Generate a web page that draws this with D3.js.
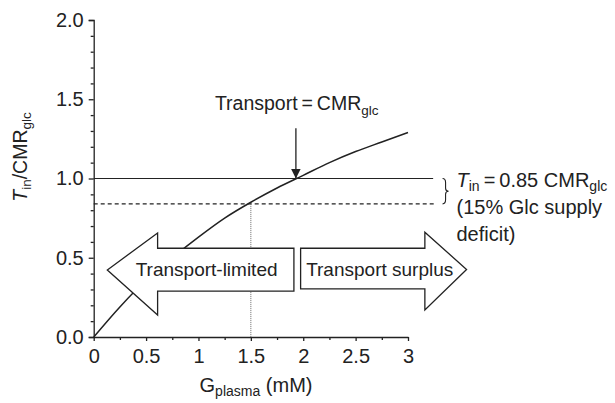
<!DOCTYPE html>
<html>
<head>
<meta charset="utf-8">
<script src="https://cdn.jsdelivr.net/npm/d3@7.9.0/dist/d3.min.js"></script>
<style>
  html, body { margin: 0; padding: 0; background: #fff; }
  svg { display: block; font-family: "Liberation Sans", Arial, Helvetica, sans-serif; }
  .axis path, .axis line { stroke: #222; stroke-width: 1.3; }
  .axis text { font-size: 20px; fill: #222; font-family: "Liberation Sans", Arial, sans-serif; }
</style>
</head>
<body>
<svg id="chart" width="615" height="403"></svg>
<script>
// glucose transport curve
const glc = [0, 0.25, 0.5, 0.75, 1, 1.25, 1.5, 1.75, 2, 2.25, 2.5, 2.75, 3];
const ratio = [0, 0.19, 0.36, 0.5, 0.63, 0.75, 0.85, 0.94, 1.02, 1.1, 1.17, 1.23, 1.29];

const xTicks = [0, 0.5, 1, 1.5, 2, 2.5, 3];
const yTicks = [0, 0.5, 1, 1.5, 2];

const fullLevel = 1.0;     // Transport = CMRglc
const deficitLevel = 0.84; // dashed line (0.85 CMRglc)
const crossG = 1.93;       // where curve hits 1.0
const deficitG = 1.5;      // where curve hits 0.85

const width = 615, height = 403;
const svg = d3.select('#chart');

const x = d3.scaleLinear().domain([0, 3]).range([93.7, 408]);
const y = d3.scaleLinear().domain([0, 2]).range([337, 20]);

const ink = '#222';

// minor ticks
svg.append('g').attr('class', 'axis')
  .attr('transform', `translate(0,${y(0)})`)
  .call(d3.axisBottom(x).tickValues(d3.range(0.25, 3, 0.5)).tickSize(3).tickFormat(''))
  .call(g => g.select('.domain').remove());
svg.append('g').attr('class', 'axis')
  .attr('transform', `translate(${x(0)},0)`)
  .call(d3.axisLeft(y).tickValues(d3.range(0, 20).map(i => i / 10).filter(v => Math.round(v * 10) % 5 !== 0)).tickSize(3).tickFormat(''))
  .call(g => g.select('.domain').remove());

// major axes
const xAxis = svg.append('g').attr('class', 'axis')
  .attr('transform', `translate(0,${y(0)})`)
  .call(d3.axisBottom(x).tickValues(xTicks).tickSizeInner(4).tickSizeOuter(0).tickFormat(d => d));
xAxis.selectAll('text').attr('y', 12).attr('dy', '0.71em');

const yAxis = svg.append('g').attr('class', 'axis')
  .attr('transform', `translate(${x(0)},0)`)
  .call(d3.axisLeft(y).tickValues(yTicks).tickSizeInner(5).tickSizeOuter(5).tickFormat(d3.format('.1f')));
yAxis.selectAll('text').attr('x', -10);

// axis titles
const yTitle = svg.append('text')
  .attr('transform', `translate(27,157) rotate(-90)`)
  .attr('text-anchor', 'middle')
  .attr('font-size', 19.5).attr('fill', ink);
yTitle.append('tspan').attr('font-style', 'italic').text('T');
yTitle.append('tspan').attr('font-size', 13.5).attr('dy', 4).text('in');
yTitle.append('tspan').attr('dy', -4).text('/CMR');
yTitle.append('tspan').attr('font-size', 13.5).attr('dy', 4).text('glc');

const xTitle = svg.append('text')
  .attr('x', 256).attr('y', 392)
  .attr('text-anchor', 'middle')
  .attr('font-size', 20).attr('fill', ink);
xTitle.append('tspan').text('G');
xTitle.append('tspan').attr('font-size', 14).attr('dy', 4).text('plasma');
xTitle.append('tspan').attr('dy', -4).text(' (mM)');

// reference lines
svg.append('line')
  .attr('x1', x(0)).attr('x2', x(3.24))
  .attr('y1', y(fullLevel)).attr('y2', y(fullLevel))
  .attr('stroke', ink).attr('stroke-width', 1.2);
svg.append('line')
  .attr('x1', x(0)).attr('x2', x(3.25))
  .attr('y1', y(deficitLevel)).attr('y2', y(deficitLevel))
  .attr('stroke', ink).attr('stroke-width', 1.2).attr('stroke-dasharray', '4,3');
svg.append('line')
  .attr('x1', x(deficitG)).attr('x2', x(deficitG))
  .attr('y1', y(deficitLevel)).attr('y2', y(0))
  .attr('stroke', '#666').attr('stroke-width', 1).attr('stroke-dasharray', '1,1');

// curve
const line = d3.line().x((d, i) => x(glc[i])).y(d => y(d)).curve(d3.curveMonotoneX);
svg.append('path')
  .attr('d', line(ratio))
  .attr('fill', 'none').attr('stroke', ink).attr('stroke-width', 1.5);

// block arrows (data coordinates)
const leftArrow = [
  [1.911, 0.56], [0.61, 0.56], [0.61, 0.656], [0.13, 0.423],
  [0.61, 0.139], [0.61, 0.29], [1.911, 0.29]
];
const rightArrow = [
  [1.975, 0.56], [3.161, 0.56], [3.161, 0.661], [3.559, 0.426],
  [3.161, 0.17], [3.161, 0.303], [1.975, 0.303]
];
[leftArrow, rightArrow].forEach(pts => {
  svg.append('path')
    .attr('d', 'M' + pts.map(p => `${x(p[0])},${y(p[1])}`).join('L') + 'Z')
    .attr('fill', '#fff').attr('stroke', ink).attr('stroke-width', 1.3)
    .attr('stroke-linejoin', 'miter');
});
svg.append('text')
  .attr('x', x(1.078)).attr('y', y(0.425) + 6.5)
  .attr('text-anchor', 'middle').attr('font-size', 19).attr('fill', ink)
  .text('Transport-limited');
svg.append('text')
  .attr('x', x(2.73)).attr('y', y(0.425) + 6.5)
  .attr('text-anchor', 'middle').attr('font-size', 19).attr('fill', ink)
  .text('Transport surplus');

// pointer arrow
svg.append('defs').append('marker')
  .attr('id', 'head').attr('viewBox', '0 0 10 10')
  .attr('refX', 10).attr('refY', 5)
  .attr('markerWidth', 10).attr('markerHeight', 11)
  .attr('markerUnits', 'userSpaceOnUse')
  .attr('orient', 'auto')
  .append('path').attr('d', 'M0,0L10,5L0,10Z').attr('fill', ink);
svg.append('line')
  .attr('x1', x(crossG)).attr('x2', x(crossG))
  .attr('y1', y(1.317)).attr('y2', y(fullLevel))
  .attr('stroke', ink).attr('stroke-width', 1.3)
  .attr('marker-end', 'url(#head)');

const eqLabel = svg.append('text')
  .attr('x', x(1.157)).attr('y', y(1.432))
  .attr('font-size', 19.5).attr('fill', ink);
eqLabel.append('tspan').text('Transport\u2009=\u2009CMR');
eqLabel.append('tspan').attr('font-size', 13.5).attr('dy', 5).text('glc');

// brace + deficit note
const bx = x(3.33), by0 = y(fullLevel), by1 = y(deficitLevel), bm = (by0 + by1) / 2;
svg.append('path')
  .attr('d', `M${bx},${by0} Q${bx + 3},${by0} ${bx + 3},${by0 + 4} L${bx + 3},${bm - 3} Q${bx + 3},${bm} ${bx + 6},${bm}
              Q${bx + 3},${bm} ${bx + 3},${bm + 3} L${bx + 3},${by1 - 4} Q${bx + 3},${by1} ${bx},${by1}`)
  .attr('fill', 'none').attr('stroke', ink).attr('stroke-width', 1.1);

const note = svg.append('text').attr('font-size', 20).attr('fill', ink);
const l1 = note.append('tspan').attr('x', 456.5).attr('y', 186.7);
l1.append('tspan').attr('font-style', 'italic').text('T');
l1.append('tspan').attr('font-size', 14).attr('dy', 4).text('in');
l1.append('tspan').attr('dy', -4).text('\u2009=\u20090.85 CMR');
l1.append('tspan').attr('font-size', 14).attr('dy', 4).text('glc');
note.append('tspan').attr('x', 456.5).attr('y', 214).text('(15% Glc supply');
note.append('tspan').attr('x', 456.5).attr('y', 241).text('deficit)');
</script>
</body>
</html>
